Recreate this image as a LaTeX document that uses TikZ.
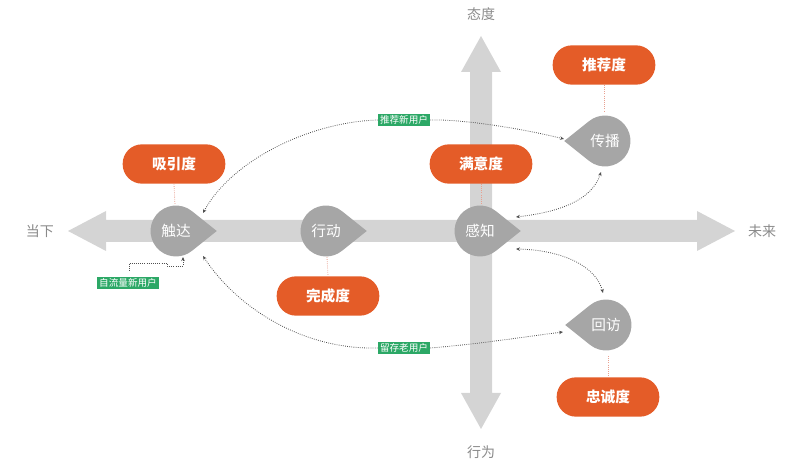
\documentclass[tikz,border=0pt]{standalone}
\usepackage{fontspec}
\setmainfont{Noto Sans CJK SC}
\usetikzlibrary{calc,arrows.meta}
\definecolor{axisgray}{HTML}{D4D4D4}
\definecolor{tdgray}{HTML}{A6A6A6}
\definecolor{orng}{HTML}{E45C28}
\definecolor{grn}{HTML}{2CA866}
\definecolor{lred}{HTML}{E8A090}
\definecolor{dotc}{HTML}{505050}
\definecolor{lblc}{HTML}{8A8A8A}
\tikzset{
  anchornode/.style={circle,minimum size=46.5pt,inner sep=0pt,font=\fontsize{11}{13}\selectfont,text=white},
  obox/.style={rectangle,rounded corners=14.5pt,fill=orng,minimum width=77pt,minimum height=29.5pt,inner sep=0pt,text=white,font=\bfseries\fontsize{11}{13}\selectfont},
  glabel/.style={rectangle,fill=grn,text=white,inner xsep=1.5pt,inner ysep=1pt,font=\fontsize{7.2}{8}\selectfont},
  axlabel/.style={text=lblc,font=\fontsize{10.5}{12}\selectfont},
  redlink/.style={lred,densely dotted,line width=0.6pt},
  flow/.style={dotc,densely dotted,line width=0.6pt,{Stealth[length=3pt,width=2.6pt]}-{Stealth[length=3pt,width=2.6pt]}},
  flowone/.style={dotc,densely dotted,line width=0.6pt,-{Stealth[length=3pt,width=2.6pt]}}
}
\newcommand\tdrop[3]{%
  \fill[tdgray] (#1,#2) ++({#3+51.3}:19.1pt) arc[start angle={#3+51.3}, delta angle=257.4, radius=19.1pt] -- ($(#1,#2)+(#3:30.6pt)$) -- cycle;}
\begin{document}
\begin{tikzpicture}[x=0.75pt,y=-0.75pt]
\useasboundingbox (0,0) rectangle (800,473);
% axes
\fill[axisgray] (68,231) -- (106,211) -- (106,220) -- (697,220) -- (697,211) -- (735,231) -- (697,251) -- (697,242) -- (106,242) -- (106,251) -- cycle;
\fill[axisgray] (481,36) -- (501,72) -- (492,72) -- (492,393) -- (501,393) -- (481,429) -- (461,393) -- (470,393) -- (470,72) -- (461,72) -- cycle;
\node[axlabel] (now) at (40,231) {当下};
\node[axlabel] (future) at (762,231) {未来};
\node[axlabel] (attitude) at (481,14) {态度};
\node[axlabel] (behavior) at (481,452) {行为};
% teardrops
\tdrop{176}{231}{0}
\tdrop{326}{231}{0}
\tdrop{480}{231}{0}
\tdrop{605}{141}{180}
\tdrop{606}{325}{180}
\node[anchornode] (chuda) at (176,231) {触达};
\node[anchornode] (xingdong) at (326,231) {行动};
\node[anchornode] (ganzhi) at (480,231) {感知};
\node[anchornode] (chuanbo) at (605,141) {传播};
\node[anchornode] (huifang) at (606,325) {回访};
% orange boxes
\node[obox] (tuijian) at (604,65) {推荐度};
\node[obox] (xiyin) at (174,164) {吸引度};
\node[obox] (manyi) at (481,164) {满意度};
\node[obox] (wancheng) at (328,296) {完成度};
\node[obox] (zhongcheng) at (608,397) {忠诚度};
% red dotted links
\draw[redlink] (tuijian.south) -- ($(chuanbo.center)+(-1,-30)$);
\draw[redlink] (xiyin.south) -- ($(chuda.center)+(-1,-26)$);
\draw[redlink] (manyi.south) -- ($(ganzhi.center)+(1,-26)$);
\draw[redlink] ($(xingdong.center)+(1,26)$) -- (wancheng.north);
\draw[redlink] ($(huifang.center)+(2,31)$) -- (zhongcheng.north);
% green labels
\node[glabel] (tjx) at (404,120) {推荐新用户};
\node[glabel] (lcl) at (404,348) {留存老用户};
\node[glabel] (zll) at (128,283) {自流量新用户};
% flows
\coordinate (cbtip) at ($(chuanbo.center)+(-41,-2)$);
\coordinate (cdtop) at ($(chuda.center)+(27,-18)$);
\coordinate (cdbot) at ($(chuda.center)+(27,25)$);
\coordinate (hftip) at ($(huifang.center)+(-43,7)$);
\draw[flowone] (tjx.east) .. controls (460,119) and (520,128) .. (cbtip);
\draw[flowone] (tjx.west) .. controls (310,122) and (232,160) .. (cdtop);
\draw[flowone] (lcl.west) .. controls (300,350) and (235,305) .. (cdbot);
\draw[flowone] (lcl.east) .. controls (480,344) and (530,336) .. (hftip);
\draw[flow] ($(ganzhi.center)+(36,-14)$) .. controls (560,212) and (592,200) .. ($(chuanbo.center)+(-4,31)$);
\draw[flow] ($(ganzhi.center)+(36,18)$) .. controls (562,250) and (596,266) .. ($(huifang.center)+(-3,-32)$);
\draw[flowone] ($(zll.north)+(1,-6)$) -- ++(0,-8) -| (167,266) -| ($(chuda.center)+(7,26)$);
\end{tikzpicture}
\end{document}
